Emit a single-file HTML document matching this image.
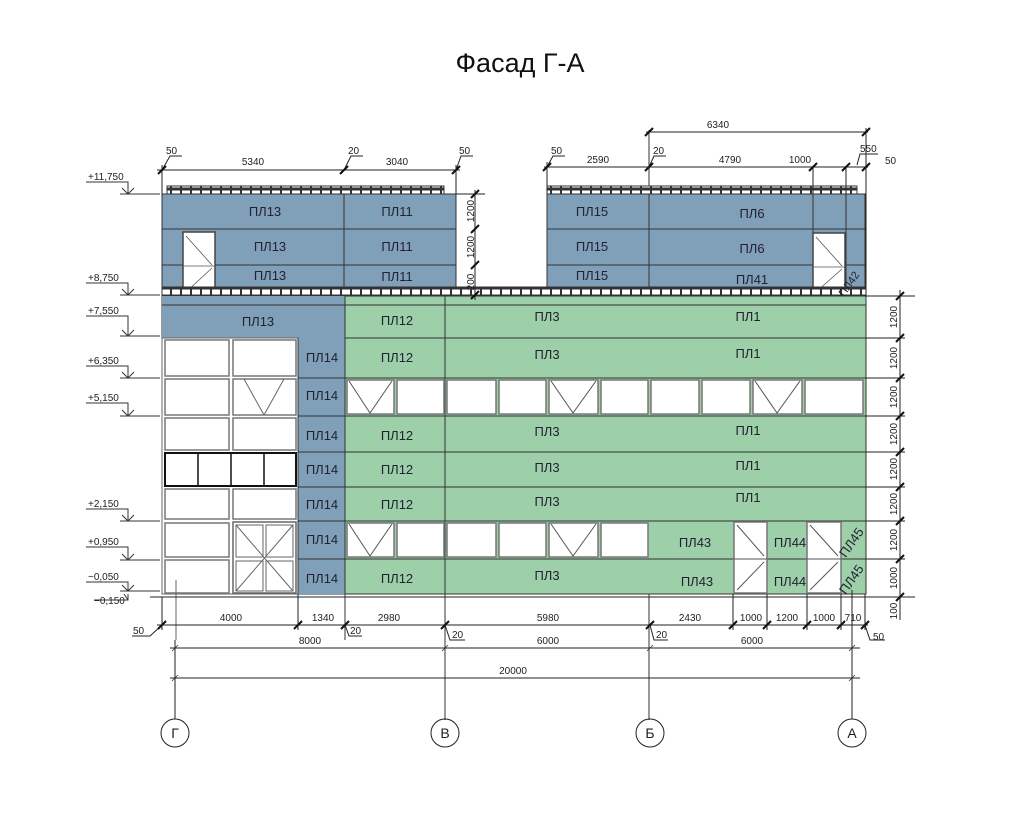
<!DOCTYPE html>
<html><head><meta charset="utf-8"><style>
html,body{margin:0;padding:0;background:#fff;}
svg{display:block;font-family:"Liberation Sans",sans-serif;}
</style></head><body>
<svg width="1024" height="819" viewBox="0 0 1024 819" xmlns="http://www.w3.org/2000/svg">
<defs>
<pattern id="rail" x="0" y="0" width="10" height="9" patternUnits="userSpaceOnUse">
<rect x="0" y="0" width="10" height="9" fill="#fff"/><rect x="0" y="0" width="10" height="1.5" fill="#333"/><rect x="0" y="7.5" width="10" height="1.5" fill="#333"/><rect x="0" y="0" width="2" height="9" fill="#333"/>
</pattern>
</defs>
<text x="520" y="72" font-size="27" text-anchor="middle" fill="#111">Фасад Г-А</text>

<!-- upper blocks -->
<rect x="162" y="194" width="294" height="101" fill="#809fb8" stroke="#333"/>
<rect x="547" y="194" width="318" height="101" fill="#809fb8" stroke="#333"/>
<g stroke="#333" stroke-width="1">
<line x1="162" y1="229" x2="456" y2="229"/><line x1="162" y1="265" x2="456" y2="265"/>
<line x1="344" y1="186" x2="344" y2="295"/>
<line x1="547" y1="229" x2="865" y2="229"/><line x1="547" y1="265" x2="865" y2="265"/>
<line x1="649" y1="130" x2="649" y2="720"/>
<line x1="813" y1="194" x2="813" y2="295"/><line x1="846" y1="194" x2="846" y2="295"/>
</g>
<rect x="167" y="186" width="277" height="8" fill="url(#rail)" stroke="#333"/>
<rect x="547" y="186" width="310" height="8" fill="url(#rail)" stroke="#333"/>
<!-- doors upper -->
<g fill="#fff" stroke="#444" stroke-width="1.5">
<rect x="183" y="232" width="32" height="63"/><rect x="813" y="233" width="32" height="62"/>
</g>
<g stroke="#555" stroke-width="0.8">
<line x1="186" y1="236" x2="212" y2="265"/><line x1="186" y1="292" x2="212" y2="268"/><line x1="183" y1="266" x2="215" y2="266"/>
<line x1="816" y1="237" x2="842" y2="266"/><line x1="816" y1="292" x2="842" y2="269"/><line x1="813" y1="267" x2="845" y2="267"/>
</g>

<!-- lower building -->
<rect x="162" y="296" width="704" height="298" fill="#9dcfa8" stroke="#333"/>
<rect x="162" y="296" width="183" height="42" fill="#809fb8"/>
<rect x="298" y="338" width="47" height="256" fill="#809fb8"/>
<rect x="162" y="338" width="136" height="256" fill="#fff" stroke="#666"/>
<g stroke="#333" stroke-width="1">
<line x1="162" y1="305" x2="866" y2="305"/>
<line x1="345" y1="338" x2="866" y2="338"/>
<line x1="298" y1="378" x2="866" y2="378"/><line x1="298" y1="416" x2="866" y2="416"/>
<line x1="298" y1="452" x2="866" y2="452"/><line x1="298" y1="487" x2="866" y2="487"/>
<line x1="298" y1="521" x2="866" y2="521"/><line x1="298" y1="559" x2="866" y2="559"/>
<line x1="345" y1="296" x2="345" y2="640"/><line x1="445" y1="296" x2="445" y2="720"/>
<line x1="298" y1="338" x2="298" y2="594"/>
</g>
<rect x="162" y="287" width="704" height="8" fill="url(#rail)" stroke="#333"/>
<!-- left white grid -->
<g fill="#fff" stroke="#777" stroke-width="1.5">
<rect x="165" y="340" width="64" height="36"/><rect x="233" y="340" width="63" height="36"/>
<rect x="165" y="379" width="64" height="36"/><rect x="233" y="379" width="63" height="36"/>
<rect x="165" y="418" width="64" height="32"/><rect x="233" y="418" width="63" height="32"/>
<rect x="165" y="489" width="64" height="30"/><rect x="233" y="489" width="63" height="30"/>
<rect x="165" y="523" width="64" height="34"/><rect x="165" y="560" width="64" height="33"/>
</g>
<rect x="165" y="453" width="131" height="33" fill="#fff" stroke="#111" stroke-width="2"/>
<g stroke="#111" stroke-width="1.5"><line x1="198" y1="453" x2="198" y2="486"/><line x1="231" y1="453" x2="231" y2="486"/><line x1="264" y1="453" x2="264" y2="486"/></g>
<rect x="233" y="522" width="63" height="71" fill="#fff" stroke="#666" stroke-width="1.5"/>
<g stroke="#666" fill="none" stroke-width="1">
<rect x="236" y="525" width="27" height="32"/><rect x="266" y="525" width="27" height="32"/>
<rect x="236" y="561" width="27" height="30"/><rect x="266" y="561" width="27" height="30"/>
<line x1="236" y1="525" x2="293" y2="591"/><line x1="293" y1="525" x2="236" y2="591"/>
<line x1="244" y1="379" x2="264" y2="415"/><line x1="284" y1="379" x2="264" y2="415"/>
<line x1="176" y1="580" x2="176" y2="640"/>
</g>
<!-- window strips -->
<g fill="#fff" stroke="#777" stroke-width="1.5">
<rect x="347" y="380" width="47" height="34"/><rect x="397" y="380" width="47" height="34"/>
<rect x="447" y="380" width="49" height="34"/><rect x="499" y="380" width="47" height="34"/>
<rect x="549" y="380" width="49" height="34"/><rect x="601" y="380" width="47" height="34"/>
<rect x="651" y="380" width="48" height="34"/><rect x="702" y="380" width="48" height="34"/>
<rect x="753" y="380" width="49" height="34"/><rect x="805" y="380" width="58" height="34"/>
<rect x="347" y="523" width="47" height="34"/><rect x="397" y="523" width="47" height="34"/>
<rect x="447" y="523" width="49" height="34"/><rect x="499" y="523" width="47" height="34"/>
<rect x="549" y="523" width="49" height="34"/><rect x="601" y="523" width="47" height="34"/>
<rect x="734" y="522" width="33" height="71"/><rect x="807" y="522" width="34" height="71"/>
</g>
<g stroke="#555" stroke-width="1" fill="none">
<path d="M349 381 L370 413 L392 381"/><path d="M551 381 L573 413 L596 381"/><path d="M755 381 L777 413 L800 381"/>
<path d="M349 524 L370 556 L392 524"/><path d="M551 524 L573 556 L596 524"/>
<line x1="734" y1="559" x2="767" y2="559"/><line x1="807" y1="559" x2="841" y2="559"/>
<line x1="737" y1="525" x2="764" y2="556"/><line x1="737" y1="590" x2="764" y2="562"/>
<line x1="810" y1="525" x2="838" y2="556"/><line x1="810" y1="590" x2="838" y2="562"/>
</g>
<!-- labels -->
<g font-size="13" fill="#223" text-anchor="middle">
<text x="265" y="216">ПЛ13</text><text x="397" y="216">ПЛ11</text>
<text x="270" y="251">ПЛ13</text><text x="397" y="251">ПЛ11</text>
<text x="270" y="280">ПЛ13</text><text x="397" y="281">ПЛ11</text>
<text x="592" y="216">ПЛ15</text><text x="752" y="218">ПЛ6</text>
<text x="592" y="251">ПЛ15</text><text x="752" y="253">ПЛ6</text>
<text x="592" y="280">ПЛ15</text><text x="752" y="284">ПЛ41</text>
<text x="258" y="326">ПЛ13</text><text x="397" y="325">ПЛ12</text><text x="547" y="321">ПЛ3</text><text x="748" y="321">ПЛ1</text>
<text x="397" y="362">ПЛ12</text><text x="547" y="359">ПЛ3</text><text x="748" y="358">ПЛ1</text>
<text x="322" y="362">ПЛ14</text><text x="322" y="400">ПЛ14</text><text x="322" y="440">ПЛ14</text><text x="322" y="474">ПЛ14</text>
<text x="322" y="509">ПЛ14</text><text x="322" y="544">ПЛ14</text><text x="322" y="583">ПЛ14</text>
<text x="397" y="440">ПЛ12</text><text x="547" y="436">ПЛ3</text><text x="748" y="435">ПЛ1</text>
<text x="397" y="474">ПЛ12</text><text x="547" y="472">ПЛ3</text><text x="748" y="470">ПЛ1</text>
<text x="397" y="509">ПЛ12</text><text x="547" y="506">ПЛ3</text><text x="748" y="502">ПЛ1</text>
<text x="397" y="583">ПЛ12</text><text x="547" y="580">ПЛ3</text>
<text x="695" y="547">ПЛ43</text><text x="697" y="586">ПЛ43</text>
<text x="790" y="547">ПЛ44</text><text x="790" y="586">ПЛ44</text>
<text transform="translate(855,545) rotate(-55)">ПЛ45</text>
<text transform="translate(855,582) rotate(-55)">ПЛ45</text>
<text transform="translate(852,286) rotate(-55)" font-size="11">ПЛ42</text>
</g>

<!-- dimension lines -->
<g stroke="#222" stroke-width="1" fill="none">
<line x1="157" y1="170" x2="460" y2="170"/>
<line x1="162" y1="165" x2="162" y2="194"/><line x1="456" y1="165" x2="456" y2="194"/>
<line x1="544" y1="167" x2="868" y2="167"/><line x1="547" y1="162" x2="547" y2="194"/>
<line x1="646" y1="132" x2="868" y2="132"/><line x1="866" y1="128" x2="866" y2="296"/>
<line x1="813" y1="167" x2="813" y2="194"/><line x1="846" y1="167" x2="846" y2="194"/>
<line x1="475" y1="190" x2="475" y2="300"/><line x1="456" y1="194" x2="485" y2="194"/>
<line x1="865" y1="296" x2="915" y2="296"/><line x1="900" y1="290" x2="900" y2="620"/>
<line x1="866" y1="338" x2="905" y2="338"/><line x1="866" y1="378" x2="905" y2="378"/><line x1="866" y1="416" x2="905" y2="416"/>
<line x1="866" y1="452" x2="905" y2="452"/><line x1="866" y1="487" x2="905" y2="487"/><line x1="866" y1="521" x2="905" y2="521"/>
<line x1="866" y1="559" x2="905" y2="559"/><line x1="150" y1="597" x2="915" y2="597"/>
<line x1="157" y1="625" x2="868" y2="625"/>
<line x1="162" y1="597" x2="162" y2="630"/><line x1="298" y1="594" x2="298" y2="630"/>
<line x1="733" y1="594" x2="733" y2="630"/><line x1="767" y1="594" x2="767" y2="630"/>
<line x1="807" y1="594" x2="807" y2="630"/><line x1="841" y1="594" x2="841" y2="630"/><line x1="865" y1="594" x2="865" y2="630"/>
<line x1="170" y1="648" x2="860" y2="648"/><line x1="170" y1="678" x2="860" y2="678"/>
<line x1="175" y1="640" x2="175" y2="719"/><line x1="852" y1="590" x2="852" y2="719"/>
<circle cx="175" cy="733" r="14"/><circle cx="445" cy="733" r="14"/><circle cx="650" cy="733" r="14"/><circle cx="852" cy="733" r="14"/>
<!-- leaders -->
<path d="M162 170 L170 156 L182 156"/><path d="M344 170 L351 156 L363 156"/><path d="M456 170 L461 156 L473 156"/>
<path d="M547 167 L553 156 L565 156"/><path d="M649 167 L654 156 L666 156"/><path d="M857 165 L860 154 L878 154"/>
<path d="M162 625 L150 636 L132 636"/><path d="M345 625 L349 636 L362 636"/><path d="M445 625 L450 640 L465 640"/>
<path d="M650 625 L654 640 L668 640"/><path d="M865 625 L870 640 L885 640"/>
</g>
<g stroke="#111" stroke-width="2">
<path d="M158 174 L166 166"/><path d="M340 174 L348 166"/><path d="M452 174 L460 166"/>
<path d="M543 171 L551 163"/><path d="M645 171 L653 163"/><path d="M809 171 L817 163"/><path d="M842 171 L850 163"/><path d="M862 171 L870 163"/>
<path d="M645 136 L653 128"/><path d="M862 136 L870 128"/>
<path d="M471 198 L479 190"/><path d="M471 233 L479 225"/><path d="M471 269 L479 261"/><path d="M471 299 L479 291"/>
<path d="M896 300 L904 292"/><path d="M896 342 L904 334"/><path d="M896 382 L904 374"/><path d="M896 420 L904 412"/>
<path d="M896 456 L904 448"/><path d="M896 491 L904 483"/><path d="M896 525 L904 517"/><path d="M896 563 L904 555"/><path d="M896 601 L904 593"/>
<path d="M158 629 L166 621"/><path d="M294 629 L302 621"/><path d="M341 629 L349 621"/><path d="M441 629 L449 621"/><path d="M646 629 L654 621"/>
<path d="M729 629 L737 621"/><path d="M763 629 L771 621"/><path d="M803 629 L811 621"/><path d="M837 629 L845 621"/><path d="M861 629 L869 621"/>
</g>
<g stroke="#333" stroke-width="0.8">
<path d="M172 651 L178 645"/><path d="M442 651 L448 645"/><path d="M647 651 L653 645"/><path d="M849 651 L855 645"/>
<path d="M172 681 L178 675"/><path d="M849 681 L855 675"/>
</g>
<!-- level marks -->
<g stroke="#333" stroke-width="1" fill="none">
<path d="M86 182 L128 182 L128 194 M122 188 L128 194 L134 188 M120 194 L160 194"/>
<path d="M86 283 L128 283 L128 295 M122 289 L128 295 L134 289 M120 295 L160 295"/>
<path d="M86 316 L128 316 L128 336 M122 330 L128 336 L134 330 M120 336 L160 336"/>
<path d="M86 366 L128 366 L128 378 M122 372 L128 378 L134 372 M120 378 L160 378"/>
<path d="M86 403 L128 403 L128 416 M122 410 L128 416 L134 410 M120 416 L160 416"/>
<path d="M86 509 L128 509 L128 521 M122 515 L128 521 L134 515 M120 521 L160 521"/>
<path d="M86 547 L128 547 L128 560 M122 554 L128 560 L134 554 M120 560 L160 560"/>
<path d="M86 582 L128 582 L128 591 M122 585 L128 591 L134 585 M120 591 L160 591"/>
<path d="M94 600 L128 600 L128 594 M124 594 L128 600"/>
</g>
<g font-size="10" fill="#222">
<text x="88" y="180">+11,750</text><text x="88" y="281">+8,750</text><text x="88" y="314">+7,550</text>
<text x="88" y="364">+6,350</text><text x="88" y="401">+5,150</text><text x="88" y="507">+2,150</text>
<text x="88" y="545">+0,950</text><text x="88" y="580">−0,050</text><text x="94" y="604">−0,150</text>
<text x="166" y="154">50</text><text x="348" y="154">20</text><text x="459" y="154">50</text>
<text x="551" y="154">50</text><text x="653" y="154">20</text><text x="860" y="152">550</text><text x="885" y="164">50</text>
<text x="133" y="634">50</text><text x="350" y="634">20</text><text x="452" y="638">20</text><text x="656" y="638">20</text><text x="873" y="640">50</text>
</g>
<g font-size="10" fill="#222" text-anchor="middle">
<text x="253" y="165">5340</text><text x="397" y="165">3040</text>
<text x="598" y="163">2590</text><text x="730" y="163">4790</text><text x="800" y="163">1000</text>
<text x="718" y="128">6340</text>
<text x="231" y="621">4000</text><text x="323" y="621">1340</text><text x="389" y="621">2980</text><text x="548" y="621">5980</text>
<text x="690" y="621">2430</text><text x="751" y="621">1000</text><text x="787" y="621">1200</text><text x="824" y="621">1000</text><text x="853" y="621">710</text>
<text x="310" y="644">8000</text><text x="548" y="644">6000</text><text x="752" y="644">6000</text>
<text x="513" y="674">20000</text>
<text transform="translate(474,211) rotate(-90)">1200</text>
<text transform="translate(474,247) rotate(-90)">1200</text>
<text transform="translate(474,282) rotate(-90)">200</text>
<text transform="translate(897,317) rotate(-90)">1200</text><text transform="translate(897,358) rotate(-90)">1200</text>
<text transform="translate(897,397) rotate(-90)">1200</text><text transform="translate(897,434) rotate(-90)">1200</text>
<text transform="translate(897,469) rotate(-90)">1200</text><text transform="translate(897,504) rotate(-90)">1200</text>
<text transform="translate(897,540) rotate(-90)">1200</text><text transform="translate(897,578) rotate(-90)">1000</text>
<text transform="translate(897,611) rotate(-90)">100</text>
</g>
<g font-size="14" fill="#222" text-anchor="middle">
<text x="175" y="738">Г</text><text x="445" y="738">В</text><text x="650" y="738">Б</text><text x="852" y="738">А</text>
</g>
</svg>
</body></html>
